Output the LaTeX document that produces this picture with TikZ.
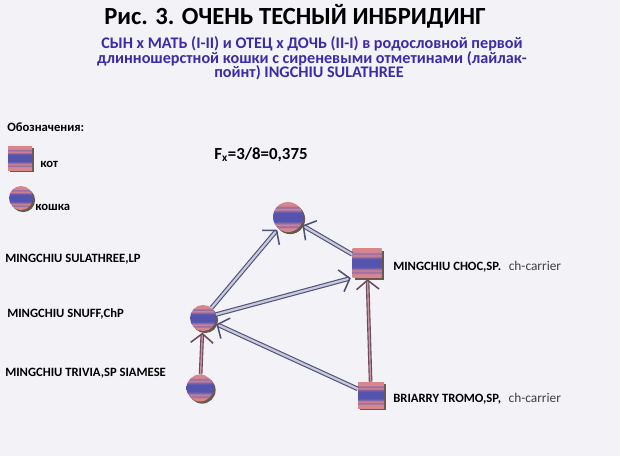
\documentclass[tikz,border=0pt]{standalone}
\usepackage{fontspec}
\setmainfont{Carlito}
\usetikzlibrary{arrows.meta,shadows,positioning}
\definecolor{bgcol}{HTML}{F2F2F7}
\definecolor{salmon}{HTML}{D8868C}
\definecolor{blucol}{HTML}{5454AE}
\definecolor{purcol}{HTML}{8A6AAA}
\definecolor{subcol}{HTML}{3B2BA6}
\definecolor{linecol}{HTML}{4F5278}
\definecolor{lineinner}{HTML}{C9C9DE}
\definecolor{vertcol}{HTML}{6B4A5E}
\definecolor{vertinner}{HTML}{C7949F}

% stripes of the pedigree symbols
\pgfdeclareverticalshading{catstripes}{100bp}{%
  color(0bp)=(salmon); color(25bp)=(salmon); color(31bp)=(salmon);
  color(34bp)=(purcol); color(37bp)=(salmon); color(40bp)=(purcol);
  color(43bp)=(blucol); color(57bp)=(blucol); color(60bp)=(purcol);
  color(63bp)=(salmon); color(66bp)=(purcol); color(69bp)=(salmon);
  color(75bp)=(salmon); color(100bp)=(salmon)}

\tikzset{
  male/.style={rectangle, shading=catstripes, minimum size=#1*0.025cm,
    inner sep=0pt, drop shadow={shadow xshift=1.5pt, shadow yshift=-1.5pt,
    fill=black!70!brown, opacity=0.75}},
  female/.style={circle, shading=catstripes, minimum size=#1*0.025cm,
    inner sep=0pt, drop shadow={shadow xshift=1.5pt, shadow yshift=-1.5pt,
    fill=black!70!brown, opacity=0.75}},
  catname/.style={anchor=base west, inner sep=0pt, font=\bfseries\fontsize{9}{11}\selectfont},
  carrier/.style={anchor=base west, inner sep=0pt, font=\fontsize{9.5}{11}\selectfont, black!75},
  subline/.style={anchor=base, inner sep=0pt, subcol, font=\bfseries\fontsize{11.5}{12}\selectfont},
  descent/.style={double=lineinner, draw=linecol, double distance=1.6pt, line width=0.8pt,
    -{Straight Barb[length=6.5pt,width=16pt,line width=1.1pt]}, shorten >=1pt},
  vdescent/.style={descent, draw=vertcol, double=vertinner, double distance=1pt},
}

\begin{document}
\begin{tikzpicture}[x=0.025cm, y=-0.025cm]

\fill[bgcol] (0,0) rectangle (620,456);
\useasboundingbox (0,0) rectangle (620,456);

% --- Headings ---
\node[inner sep=0pt, anchor=base, font=\bfseries\fontsize{17.5}{20}\selectfont] (title)
  at (295,24) {Рис. 3. ОЧЕНЬ ТЕСНЫЙ ИНБРИДИНГ};
\node[subline] (sub1) at (312,48) {СЫН x МАТЬ (I-II) и ОТЕЦ x ДОЧЬ (II-I) в родословной первой};
\node[subline] (sub2) at (312,63) {длинношерстной кошки с сиреневыми отметинами (лайлак-};
\node[subline] (sub3) at (309,77) {пойнт) INGCHIU SULATHREE};

% --- Legend ---
\node[catname] (legend) at (7,131) {Обозначения:};
\node[male=24] (keym) at (20,158) {};
\node[catname] (keymtext) at (40,167) {кот};
\node[female=24] (keyf) at (21,198) {};
\node[catname] (keyftext) at (35,210) {кошка};

\node[anchor=base west, inner sep=0pt, font=\bfseries\fontsize{12}{14}\selectfont] (fx)
  at (214,159) {F\textsubscript{x}=3/8=0,375};

% --- Pedigree ---
\node[female=30] (tc) at (288,217) {};
\node[male=29]   (rs) at (367,263) {};
\node[female=26] (mc) at (203,318) {};
\node[female=27] (bc) at (200,388) {};
\node[male=26]   (bs) at (371,395) {};

% names
\node[catname] (n1) at (5,262) {MINGCHIU SULATHREE,LP};
\node[catname] (n2) at (7,317) {MINGCHIU SNUFF,ChP};
\node[catname] (n3) at (5,376) {MINGCHIU TRIVIA,SP SIAMESE};
\node[catname] (n4) at (393,270) {MINGCHIU CHOC,SP.};
\node[carrier, right=5pt of n4.base east, anchor=base west] (c4) {ch-carrier};
\node[catname] (n5) at (393,402) {BRIARRY TROMO,SP,};
\node[carrier, right=5pt of n5.base east, anchor=base west] (c5) {ch-carrier};

% descent lines
\draw[vdescent] (bc) -- (mc);
\draw[descent] (bs) -- (mc);
\draw[vdescent] (bs) -- (rs);
\draw[descent] (mc) -- (tc);
\draw[descent] (mc) -- (rs.south west);
\draw[descent] (rs) -- (tc);

\end{tikzpicture}
\end{document}
